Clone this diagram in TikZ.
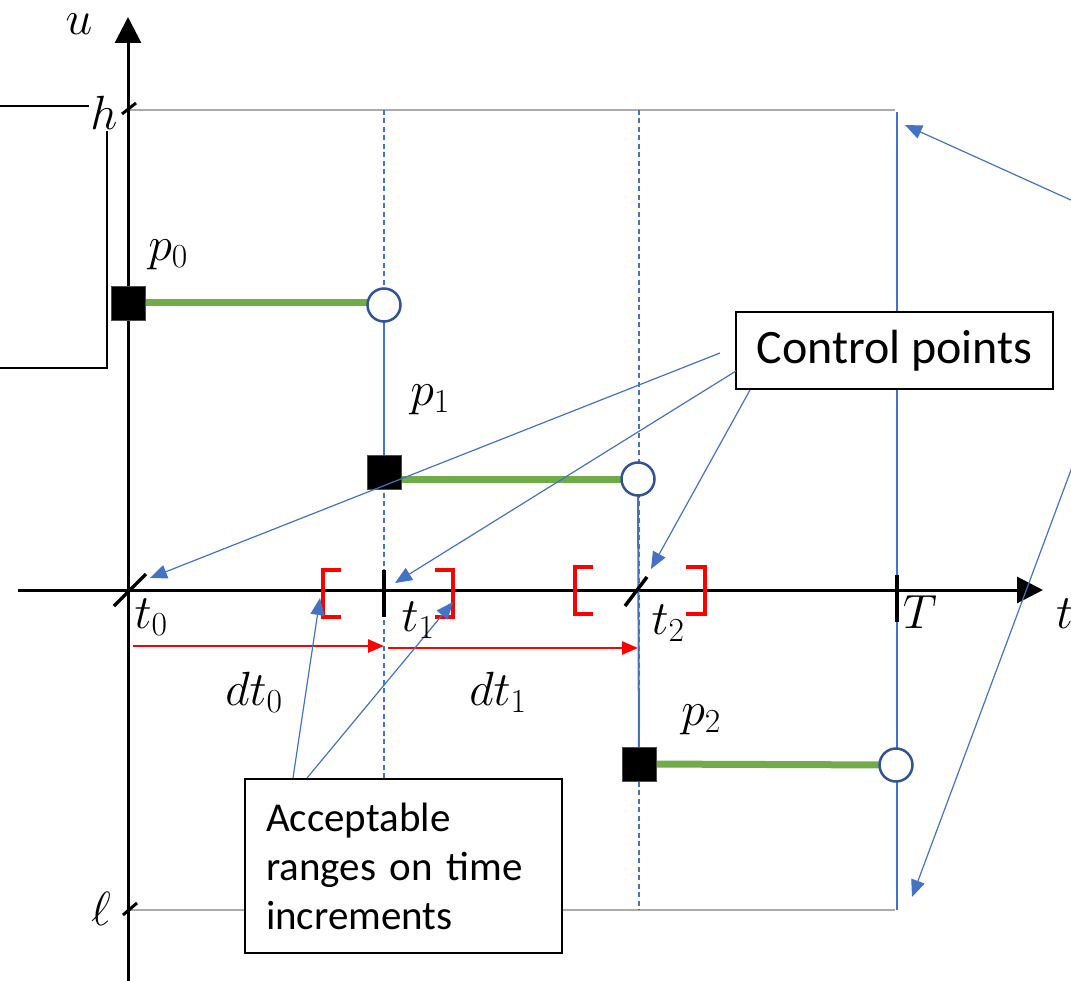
\RequirePackage{fix-cm}
\documentclass[tikz,border=0pt]{standalone}
\usepackage{fontspec}
\setmainfont{Carlito}
\usetikzlibrary{arrows.meta}
\definecolor{bl}{HTML}{4472C4}
\definecolor{dbl}{HTML}{2F5597}
\definecolor{gr}{HTML}{70AD47}
\definecolor{gy}{HTML}{ABABAB}
\definecolor{rd}{HTML}{FF0000}
\begin{document}
\begin{tikzpicture}[x=1pt,y=-1pt,
  mathlbl/.style={inner sep=0pt, font=\fontsize{48}{57}\selectfont},
  ptsq/.style={rectangle, fill=black, draw=black!70, line width=0.8pt, minimum size=34pt, inner sep=0pt},
  opencirc/.style={circle, draw=dbl, line width=2.5pt, fill=white, minimum size=33pt, inner sep=0pt},
  greenseg/.style={draw=gr, line width=7pt},
  bluearrow/.style={draw=bl, line width=1.2pt, -{Triangle[length=17pt,width=14pt]}},
  redarrow/.style={draw=rd, line width=2.5pt, -{Triangle[length=16pt,width=13pt]}},
  bracketpath/.style={draw=rd, line width=4pt},
  tickmark/.style={draw=black, line width=3.5pt},
  axisline/.style={draw=black, line width=3pt, -{Triangle[length=26pt,width=26pt]}},
  guide/.style={draw=gy, line width=2.5pt},
  dashguide/.style={draw=bl, line width=1.1pt, dash pattern=on 5pt off 3.5pt},
  solidguide/.style={draw=bl, line width=1.3pt},
  callout/.style={draw=black, line width=2pt, fill=white},
  leftbox/.style={draw=black, line width=1.5pt}
]
\useasboundingbox (0,0) rectangle (1071,981);
\clip (0,0) rectangle (1071,981);

% key coordinates
\coordinate (P0) at (128,303);
\coordinate (C1) at (384,305);
\coordinate (P1) at (384,472);
\coordinate (C2) at (638,479);
\coordinate (P2) at (639,764);
\coordinate (C3) at (896,765);

% left box (partly off page)
\draw[leftbox] (-10,106) -| (107,368) -- (-10,368);

% guides
\coordinate (hL) at (128,110);
\coordinate (hR) at (895,110);
\coordinate (lL) at (128,910);
\coordinate (lR) at (895,910);
\draw[guide] (hL) -- (hR);
\draw[guide] (lL) -- (lR);
\coordinate (d1t) at (384,110);
\coordinate (d1b) at (384,779);
\coordinate (d2t) at (639,110);
\coordinate (d2b) at (639,910);
\draw[dashguide] (d1t) -- (d1b);
\draw[dashguide] (d2t) -- (d2b);
\coordinate (Tt) at (897,112);
\coordinate (Tb) at (897,910);
\draw[solidguide] (Tt) -- (Tb);

% axes
\coordinate (yb) at (128,981);
\coordinate (yt) at (128,17);
\coordinate (xl) at (18,590);
\coordinate (xr) at (1043,590);
\draw[axisline] (yb) -- (yt);
\draw[axisline] (xl) -- (xr);

% trajectory
\draw[greenseg] (P0) -- (P0 -| C1);
\draw[greenseg] (P1) -- (P1 |- C2) -- (C2);
\draw[greenseg] (P2) -- (C3);
\draw[bl, line width=2pt] (C1) -- (P1);
\draw[bl, line width=2pt] (C2) -- (P2);

\node[ptsq] (p0sq) at (P0) {};
\node[opencirc] (c1) at (C1) {};
\node[ptsq] (p1sq) at (P1) {};
\node[opencirc] (c2) at (C2) {};
\node[ptsq] (p2sq) at (P2) {};
\node[opencirc] (c3) at (C3) {};

% ticks
\draw[tickmark] (114,606) -- (146,574);
\draw[tickmark] (384,570) -- (384,617);
\draw[tickmark] (625,606) -- (647,577);
\draw[tickmark] (897,575) -- (897,622);
\draw[draw=black, line width=3pt] (122,114) -- (136,103);
\draw[draw=black, line width=3pt] (123,915) -- (137,903);

% brackets
\draw[bracketpath] (341,570) -| (323,617) -- (341,617);
\draw[bracketpath] (435,570) -| (453,617) -- (435,617);
\draw[bracketpath] (593,567) -| (575,614) -- (593,614);
\draw[bracketpath] (686,567) -| (705,614) -- (686,614);

% time increments
\coordinate (dt0s) at (133,646);
\coordinate (dt0e) at (384,646);
\coordinate (dt1s) at (388,648);
\coordinate (dt1e) at (638,648);
\draw[redarrow] (dt0s) -- (dt0e);
\draw[redarrow] (dt1s) -- (dt1e);

% callouts
\node[callout, minimum width=317pt, minimum height=77pt, inner sep=0pt,
      font=\fontsize{48}{57}\selectfont] (cp) at (894.5,350.5) {Control points};
\node[callout, minimum width=317pt, minimum height=174pt, inner xsep=21pt, inner ysep=0pt,
      text width=275pt, align=left,
      font=\fontsize{41}{49}\selectfont] (acc) at (403.5,866) {Acceptable\\ranges on time\\increments};

% callout arrows
\coordinate (cpa) at (720,353);
\coordinate (cpb) at (736,371);
\coordinate (cpc) at (750,390);
\coordinate (tip0) at (150,578);
\coordinate (tip1) at (395,583);
\coordinate (tip2) at (651,569);
\draw[bluearrow] (cpa) -- (tip0);
\draw[bluearrow] (cpb) -- (tip1);
\draw[bluearrow] (cpc) -- (tip2);

\coordinate (aca) at (293,778);
\coordinate (acb) at (307,778);
\coordinate (tipL) at (320,598);
\coordinate (tipR) at (453,602);
\draw[bluearrow] (aca) -- (tipL);
\draw[bluearrow] (acb) -- (tipR);

\coordinate (rsrc) at (1157,239);
\coordinate (tipH) at (905,125);
\coordinate (tipl) at (912,897);
\draw[bluearrow] (rsrc) -- (tipH);
\draw[bluearrow] (rsrc) -- (tipl);

% labels
\node[mathlbl] (ulbl) at (79,24) {$u$};
\node[mathlbl] (tlbl) [anchor=west] at (1056,614) {$t$};
\node[mathlbl, fill=white, inner sep=1pt] (hlbl) at (104,113) {$h$};
\node[mathlbl] (llbl) at (101,909) {$\ell$};
\node[mathlbl] (p0lbl) at (168,255) {$p_0$};
\node[mathlbl] (p1lbl) at (430,400) {$p_1$};
\node[mathlbl] (p2lbl) at (701,720) {$p_2$};
\node[mathlbl] (t0lbl) at (151,617) {$t_0$};
\node[mathlbl] (t1lbl) at (418,620) {$t_1$};
\node[mathlbl] (t2lbl) at (668,623) {$t_2$};
\node[mathlbl] (Tlbl) at (920,612) {$T$};
\node[mathlbl] (dt0lbl) at (254,692) {$dt_0$};
\node[mathlbl] (dt1lbl) at (498,692) {$dt_1$};
\end{tikzpicture}
\end{document}
